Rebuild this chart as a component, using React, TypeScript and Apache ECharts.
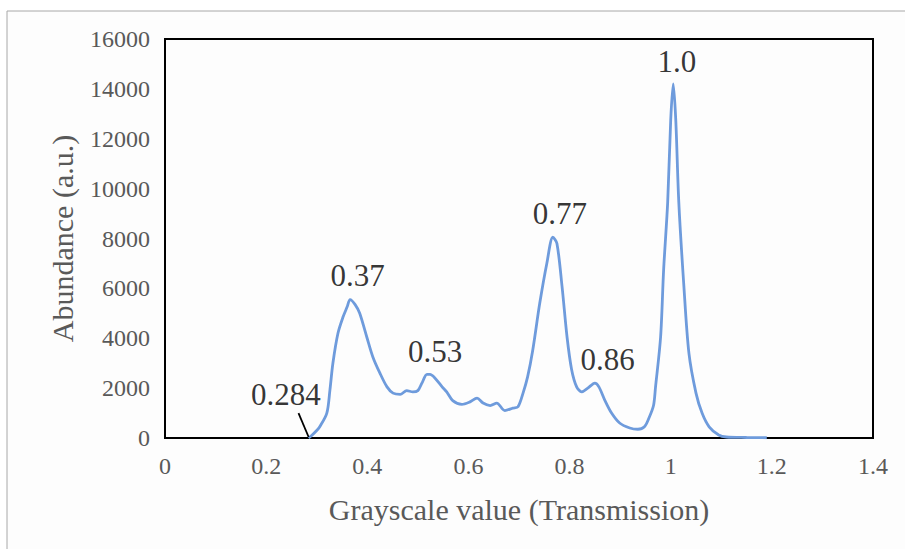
import React, { useEffect, useRef } from "react";
import * as echarts from "echarts";

const xValues = [
  0.284, 0.29, 0.3, 0.306, 0.32, 0.326, 0.332, 0.342, 0.352, 0.36, 0.366, 0.376, 0.385, 0.399,
  0.411, 0.425, 0.439, 0.451, 0.465, 0.478, 0.49, 0.5, 0.508, 0.518, 0.524, 0.534, 0.548, 0.557,
  0.569, 0.587, 0.603, 0.617, 0.629, 0.643, 0.656, 0.672, 0.688, 0.698, 0.708, 0.717, 0.727,
  0.741, 0.755, 0.767, 0.775, 0.785, 0.795, 0.804, 0.814, 0.824, 0.836, 0.85, 0.858, 0.87,
  0.883, 0.899, 0.919, 0.935, 0.948, 0.957, 0.966, 0.97, 0.98, 0.986, 0.994, 1.0, 1.005, 1.01,
  1.016, 1.026, 1.036, 1.05, 1.062, 1.076, 1.095, 1.11, 1.15, 1.19,
];
const abundance = [
  0, 100, 300, 450, 1000, 1900, 3000, 4200, 4850, 5250, 5550, 5350, 5000, 4050,
  3250, 2600, 2050, 1800, 1750, 1900, 1850, 1900, 2200, 2550, 2550, 2400, 2050, 1850,
  1500, 1350, 1450, 1600, 1400, 1300, 1400, 1100, 1200, 1250, 1800, 2450, 3500,
  5400, 7000, 8050, 7800, 6100, 4050, 2750, 2050, 1850, 2000, 2200, 2050, 1500,
  1000, 600, 400, 350, 450, 800, 1300, 2050, 4050, 6750, 9450, 12750, 14200, 12750,
  9450, 6100, 3400, 1800, 1000, 450, 120, 40, 20, 10,
];

const xTicks = [0, 0.2, 0.4, 0.6, 0.8, 1, 1.2, 1.4];
const yTicks = [0, 2000, 4000, 6000, 8000, 10000, 12000, 14000, 16000];

const annText = ["1.0", "0.77", "0.37", "0.53", "0.86", "0.284"];
const annX = [1.012, 0.781, 0.381, 0.534, 0.875, 0.239];
const annY = [15100, 9000, 6500, 3450, 3130, 1760];

const leaderX = [0.264, 0.284];
const leaderY = [1000, 40];

export default function App() {
  const ref = useRef<HTMLDivElement>(null);
  useEffect(() => {
    if (!ref.current) return;
    const chart = echarts.init(ref.current, undefined, { renderer: "svg" });
    const serif = "Liberation Serif";
    chart.setOption({
      animation: false,
      backgroundColor: "#ffffff",
      graphic: [
        { type: "rect", shape: { x: 7, y: 11, width: 905, height: 549 }, style: { fill: "#fdfdfd", stroke: "#a8a8a8", lineWidth: 1 }, z: -10 },
      ],
      grid: { left: 165, right: 32, top: 39, bottom: 111, show: true, borderColor: "#000", borderWidth: 2 },
      xAxis: {
        type: "value",
        min: 0,
        max: 1.4,
        interval: 0.2,
        name: "Grayscale value (Transmission)",
        nameLocation: "middle",
        nameGap: 56,
        nameTextStyle: { fontFamily: serif, fontSize: 30, color: "#595959" },
        axisLine: { show: true, lineStyle: { color: "#000", width: 2 } },
        axisTick: { show: false },
        splitLine: { show: false },
        axisLabel: {
          fontFamily: serif,
          fontSize: 24,
          color: "#595959",
          margin: 16,
          formatter: (v: number) => {
            const t = xTicks.find((k) => Math.abs(k - v) < 1e-6);
            return t === undefined ? "" : String(t);
          },
        },
      },
      yAxis: {
        type: "value",
        min: 0,
        max: 16000,
        interval: 2000,
        name: "Abundance (a.u.)",
        nameLocation: "middle",
        nameGap: 88,
        nameTextStyle: { fontFamily: serif, fontSize: 30, color: "#595959" },
        axisLine: { show: true, lineStyle: { color: "#000", width: 2 } },
        axisTick: { show: false },
        splitLine: { show: false },
        axisLabel: {
          fontFamily: serif,
          fontSize: 24,
          color: "#595959",
          margin: 15,
          formatter: (v: number) => (yTicks.includes(v) ? String(v) : ""),
        },
      },
      series: [
        {
          type: "line",
          data: xValues.map((x, i) => [x, abundance[i]]),
          showSymbol: false,
          smooth: 0.3,
          lineStyle: { color: "#6E9BDC", width: 2.8 },
          z: 3,
        },
        {
          type: "line",
          data: leaderX.map((x, i) => [x, leaderY[i]]),
          showSymbol: false,
          lineStyle: { color: "#000", width: 1.8 },
          z: 4,
        },
        {
          type: "scatter",
          data: annX.map((x, i) => [x, annY[i], annText[i]]),
          symbolSize: 0,
          label: {
            show: true,
            position: "inside",
            formatter: (p: any) => p.data[2],
            fontFamily: serif,
            fontSize: 31,
            color: "#000",
          },
          z: 5,
        },
      ],
    });
    return () => chart.dispose();
  }, []);
  return <div ref={ref} style={{ position: "fixed", left: 0, top: 0, width: 905, height: 549 }} />;
}
